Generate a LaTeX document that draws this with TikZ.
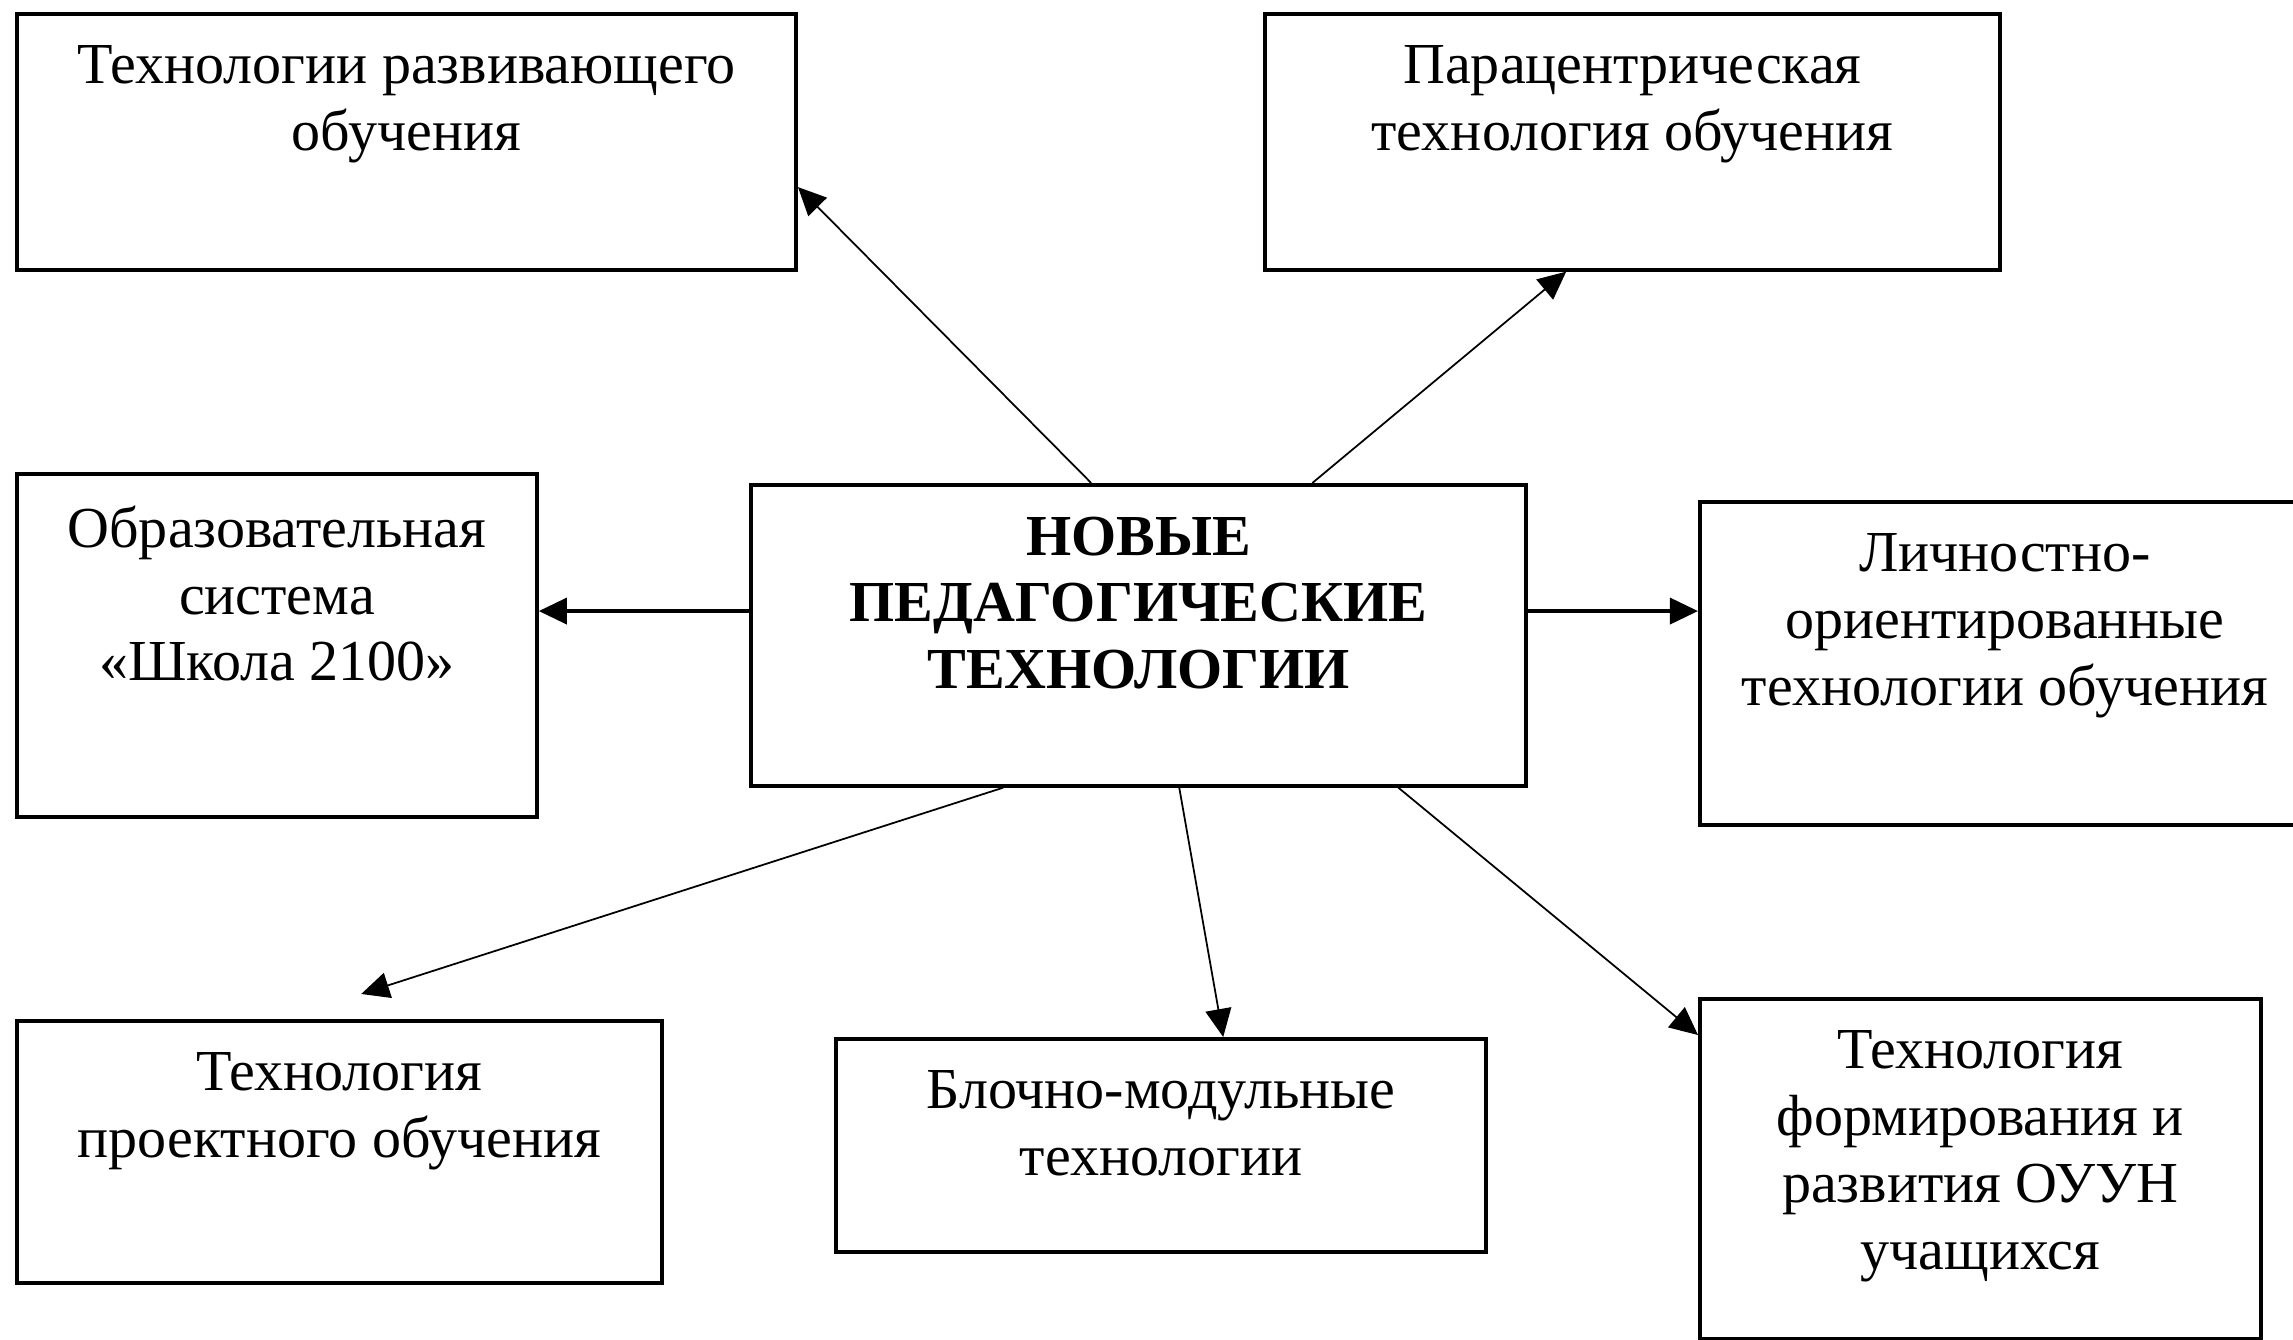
\documentclass[tikz,border=0pt]{standalone}
\usepackage{fontspec}
\setmainfont{Liberation Serif}
\usepackage{tikz}
\usetikzlibrary{positioning,calc,arrows.meta}

\begin{document}
\begin{tikzpicture}[x=0.01cm,y=-0.01cm,
    ramka/.style={draw, line width=1pt, inner sep=0pt, anchor=north west},
    txt/.style={anchor=north, align=center, inner sep=0pt, yshift=-0.33cm,
      font=\fontsize{16.5}{19}\selectfont},
    str/.style={line width=0.5pt, -{Triangle[length=0.28cm,width=0.26cm]}},
    strb/.style={str, line width=1pt}]
    \useasboundingbox (0,0) rectangle (2293,1340);
    \node[ramka, minimum width=7.79cm, minimum height=2.56cm] (razv) at (15,12) {};
    \node[ramka, minimum width=7.35cm, minimum height=2.56cm] (parac) at (1263,12) {};
    \node[ramka, minimum width=5.20cm, minimum height=3.43cm] (shkola) at (15,472) {};
    \node[ramka, minimum width=7.75cm, minimum height=3.01cm] (novye) at (749,483) {};
    \node[ramka, minimum width=6.10cm, minimum height=3.23cm] (lichn) at (1698,500) {};
    \node[ramka, minimum width=6.45cm, minimum height=2.62cm] (proekt) at (15,1019) {};
    \node[ramka, minimum width=6.50cm, minimum height=2.13cm] (blok) at (834,1037) {};
    \node[ramka, minimum width=5.61cm, minimum height=3.40cm] (ouun) at (1698,997) {};
    \node[txt] (razvT) at (razv.north) {Технологии развивающего\\обучения};
    \node[txt] (paracT) at (parac.north) {Парацентрическая\\технология обучения};
    \node[txt] (shkolaT) at (shkola.north) {Образовательная\\система\\«Школа 2100»};
    \node[txt, font=\fontsize{16.5}{19}\selectfont\bfseries] (novyeT) at (novye.north) {НОВЫЕ\\ПЕДАГОГИЧЕСКИЕ\\ТЕХНОЛОГИИ};
    \node[txt] (lichnT) at (lichn.north) {Личностно-\\ориентированные\\технологии обучения};
    \node[txt] (proektT) at (proekt.north) {Технология\\проектного обучения};
    \node[txt] (blokT) at (blok.north) {Блочно-модульные\\технологии};
    \node[txt] (ouunT) at (ouun.north) {Технология\\формирования и\\развития ОУУН\\учащихся};
    \coordinate (lv) at ([yshift=-1.28cm]novye.north west);
    \draw[str] ([xshift=3.42cm]novye.north west) -- ([yshift=-1.75cm]razv.north east);
    \draw[str] ([xshift=5.63cm]novye.north west) -- ([xshift=3.03cm]parac.south west);
    \draw[strb] (lv) -- (lv -| shkola.east);
    \draw[strb] (lv -| novye.east) -- (lv -| lichn.west);
    \draw[str] ([xshift=2.54cm]novye.south west) -- ([xshift=3.46cm,yshift=0.25cm]proekt.north west);
    \draw[str] ([xshift=4.30cm]novye.south west) -- ([xshift=3.89cm]blok.north west);
    \draw[str] ([xshift=6.49cm]novye.south west) -- ([yshift=-0.38cm]ouun.north west);
\end{tikzpicture}
\end{document}
